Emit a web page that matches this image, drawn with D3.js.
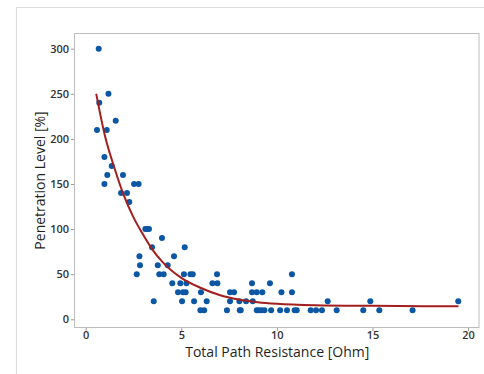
<!DOCTYPE html>
<html>
<head>
<meta charset="utf-8">
<script src="https://cdn.jsdelivr.net/npm/d3@7/dist/d3.min.js"></script>
<style>
  html, body { margin: 0; padding: 0; background: #fff; }
  svg { display: block; }
  text { font-family: "Open Sans", "Noto Sans", sans-serif; fill: #333; }
</style>
</head>
<body>
<svg id="chart" width="484" height="374"></svg>
<script>
// Measured samples: total path resistance [Ohm] and penetration level [%]
const resistance = [
  0.68, 0.71, 0.59, 1.19, 1.10, 1.57, 0.98, 0.98, 1.13, 1.36,
  1.95, 1.85, 2.16, 2.28, 2.53, 2.77, 3.12, 3.22, 3.31, 3.47,
  3.99, 2.81, 2.84, 2.67, 3.56, 3.77, 3.85, 4.08, 4.29, 4.62,
  4.53, 4.83, 4.95, 5.04, 5.09, 5.23, 5.14, 5.18, 5.27, 5.48,
  5.60, 5.67, 6.03, 6.00, 6.20, 6.33, 6.63, 6.87, 6.89, 7.39,
  7.55, 7.55, 7.76, 8.04, 8.06, 8.11, 8.39, 8.70, 8.70, 8.74,
  8.95, 9.24, 8.95, 9.05, 9.19, 9.35, 9.70, 9.64, 10.17, 10.24,
  10.53, 10.79, 10.79, 10.93, 11.04, 11.77, 12.05, 12.36, 12.66, 13.13,
  14.52, 14.89, 15.36, 17.10, 19.49
];
const penetration = [
  300, 240, 210, 250, 210, 220, 180, 150, 160, 170,
  160, 140, 140, 130, 150, 150, 100, 100, 100, 80,
  90, 70, 60, 50, 20, 60, 50, 50, 60, 70,
  40, 30, 40, 20, 30, 30, 50, 80, 40, 50,
  50, 20, 30, 10, 10, 20, 40, 50, 40, 10,
  20, 30, 30, 20, 10, 10, 20, 40, 30, 20,
  30, 30, 10, 10, 10, 10, 10, 40, 10, 30,
  10, 50, 30, 10, 10, 10, 10, 10, 20, 10,
  10, 20, 10, 10, 20
];

// Fitted trend (exponential decay), sampled along the resistance range
const fitResistance  = [0.55, 1.0, 1.5, 2.0, 2.5, 3.0, 3.5, 4.0, 5.0, 6.0, 7.0, 8.0, 9.0, 10.0, 12.0, 15.0, 19.5];
const fitPenetration = [250, 204, 168, 137, 113, 94, 77, 64, 46, 35, 27, 22, 19, 17.2, 15.6, 14.9, 14.5];

const xTicks = [0, 5, 10, 15, 20];
const yTicks = [0, 50, 100, 150, 200, 250, 300];
const xTitle = "Total Path Resistance [Ohm]";
const yTitle = "Penetration Level [%]";

const svg = d3.select("#chart");

// outer panel border (left and top edges visible)
svg.append("path")
  .attr("d", "M16.5,374 V7.5 H484")
  .attr("fill", "none")
  .attr("stroke", "#dcdcdc")
  .attr("stroke-width", 1.2);

const frame = { left: 74, top: 33, right: 479.5, bottom: 328 };

const x = d3.scaleLinear().domain([0, 20]).range([85.7, 468]);
const y = d3.scaleLinear().domain([0, 300]).range([319.3, 48.7]);

// data-area frame
svg.append("rect")
  .attr("x", frame.left + 0.5)
  .attr("y", frame.top + 0.5)
  .attr("width", frame.right - frame.left - 1)
  .attr("height", frame.bottom - frame.top - 1)
  .attr("fill", "none")
  .attr("stroke", "#bdbdbd")
  .attr("stroke-width", 1);

// axes
const xAxis = d3.axisBottom(x).tickValues(xTicks).tickSize(3).tickPadding(0).tickFormat(d3.format("d"));
const yAxis = d3.axisLeft(y).tickValues(yTicks).tickSize(3).tickPadding(2).tickFormat(d3.format("d"));

const gx = svg.append("g").attr("transform", `translate(0,${frame.bottom})`).call(xAxis);
const gy = svg.append("g").attr("transform", `translate(${frame.left},0)`).call(yAxis);
[gx, gy].forEach(g => {
  g.select(".domain").remove();
  g.selectAll(".tick line").attr("stroke", "#9a9a9a");
  g.selectAll(".tick text").attr("font-size", 11).attr("fill", "#262626")
    .attr("font-weight", 600)
    .style("font-family", "'Open Sans', 'Noto Sans', sans-serif");
});

// axis titles
svg.append("text")
  .attr("x", (frame.left + frame.right) / 2 + 0.5)
  .attr("y", 357)
  .attr("text-anchor", "middle")
  .attr("font-size", 14)
  .attr("fill", "#1f1f1f")
  .style("fill", "#1f1f1f")
  .text(xTitle);

svg.append("text")
  .attr("transform", "translate(45,180.5) rotate(-90)")
  .attr("text-anchor", "middle")
  .attr("font-size", 14)
  .style("fill", "#1f1f1f")
  .text(yTitle);

// scatter points
svg.append("g").selectAll("circle")
  .data(d3.range(resistance.length))
  .join("circle")
  .attr("cx", i => x(resistance[i]))
  .attr("cy", i => y(penetration[i]))
  .attr("r", 3)
  .attr("fill", "#0b57a4");

// fitted curve
const line = d3.line()
  .x(i => x(fitResistance[i]))
  .y(i => y(fitPenetration[i]))
  .curve(d3.curveMonotoneX);

svg.append("path")
  .datum(d3.range(fitResistance.length))
  .attr("d", line)
  .attr("fill", "none")
  .attr("stroke", "#a31f1f")
  .attr("stroke-width", 2);
</script>
</body>
</html>
